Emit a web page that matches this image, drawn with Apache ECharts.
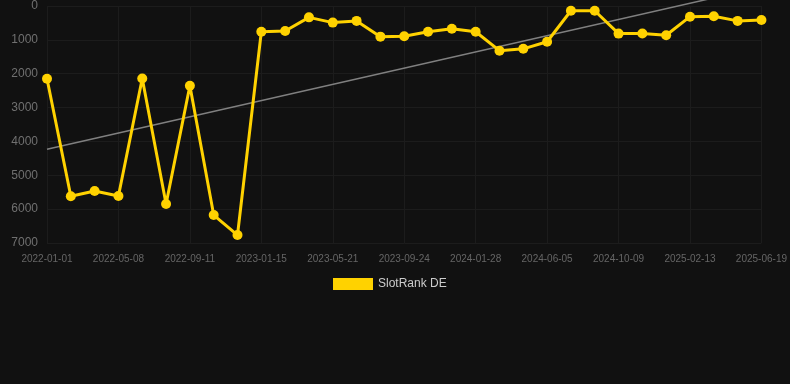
<!DOCTYPE html>
<html><head><meta charset="utf-8">
<script src="https://cdn.jsdelivr.net/npm/echarts@6/dist/echarts.min.js"></script>
<style>html,body{margin:0;padding:0;background:#111111;}#c{width:790px;height:384px;}</style>
</head><body><div id="c"></div>
<script>
const categories = ["2022-01-01","2022-02-12","2022-03-26","2022-05-08","2022-06-19","2022-07-31","2022-09-11","2022-10-23","2022-12-04","2023-01-15","2023-02-26","2023-04-09","2023-05-21","2023-07-02","2023-08-13","2023-09-24","2023-11-05","2023-12-17","2024-01-28","2024-03-11","2024-04-23","2024-06-05","2024-07-17","2024-08-28","2024-10-09","2024-11-20","2025-01-01","2025-02-13","2025-03-27","2025-05-08","2025-06-19"];
const rankValues = [2150,5620,5465,5610,2140,5850,2355,6175,6765,760,740,335,490,440,905,895,760,670,760,1320,1265,1055,140,140,815,810,865,315,305,440,415];
const trendValues = [4230,null,null,null,null,null,null,null,null,null,null,null,null,null,null,null,null,null,null,null,null,null,null,null,null,null,null,null,null,null,-560];
const yTicks = [0,1000,2000,3000,4000,5000,6000,7000];
const seriesName = "SlotRank DE";

const chart = echarts.init(document.getElementById('c'), null, {renderer:'canvas'});
chart.setOption({
  backgroundColor:'#111111',
  animation:false,
  grid:{left:47,right:28,top:6,bottom:141,containLabel:false},
  legend:{
    data:[seriesName], top:273, left:328,
    itemWidth:40, itemHeight:12, icon:'rect',
    textStyle:{color:'#cccccc',fontSize:12,fontFamily:'Arial, Liberation Sans, sans-serif'}
  },
  xAxis:{
    type:'category', data:categories, boundaryGap:false,
    axisLine:{show:false}, axisTick:{show:false},
    axisLabel:{interval:2,color:'#666666',fontSize:10,margin:11,fontFamily:'Arial, Liberation Sans, sans-serif'},
    splitLine:{show:true,interval:2,lineStyle:{color:'#1c1c1c',width:1}}
  },
  yAxis:{
    type:'value', inverse:true, min:yTicks[0], max:yTicks[yTicks.length-1], interval:1000,
    axisLine:{show:false}, axisTick:{show:false},
    axisLabel:{color:'#707070',fontSize:12,margin:9,fontFamily:'Arial, Liberation Sans, sans-serif',formatter:function(v){return String(v);}},
    splitLine:{lineStyle:{color:'#1c1c1c',width:1}}
  },
  series:[
    {
      name:seriesName, type:'line', data:rankValues,
      symbol:'circle', symbolSize:10, clip:false,
      itemStyle:{color:'#ffd200'},
      lineStyle:{color:'#ffd200',width:3},
      z:3
    },
    {
      name:'trend', type:'line', data:trendValues, connectNulls:true,
      symbol:'none', clip:false, silent:true,
      lineStyle:{color:'#808080',width:1.5},
      z:2
    }
  ]
});
</script></body></html>
